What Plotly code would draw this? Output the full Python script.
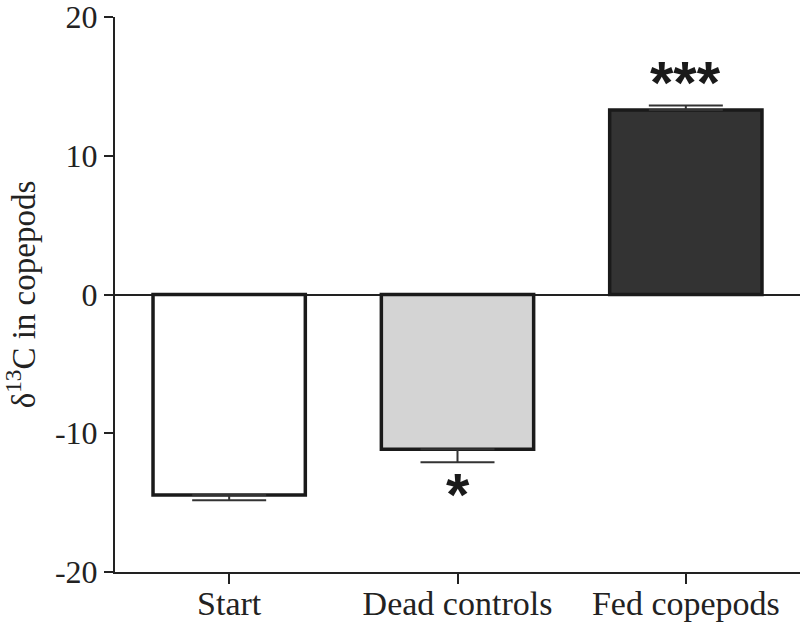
import plotly.graph_objects as go

# Data
groups = ["Start", "Dead controls", "Fed copepods"]
delta13c = [-14.45, -11.15, 13.3]
sem = [0.37, 0.94, 0.32]
significance = ["", "*", "***"]
bar_colors = ["#ffffff", "#d4d4d4", "#333333"]
y_ticks = [-20, -10, 0, 10, 20]
y_ticktext = ["-20", "-10", "0", "10", "20"]

# One-sided error bars pointing away from zero
err_up = [e if v > 0 else 0 for v, e in zip(delta13c, sem)]
err_down = [e if v < 0 else 0 for v, e in zip(delta13c, sem)]

fig = go.Figure()

fig.add_trace(go.Bar(
    x=groups,
    y=delta13c,
    width=0.667,
    marker=dict(color=bar_colors, line=dict(color="#1a1a1a", width=3.5)),
    error_y=dict(type="data", symmetric=False, array=err_up, arrayminus=err_down,
                 color="#333333", thickness=2, width=37),
    showlegend=False
))

# Significance stars
for g, v, e, s in zip(groups, delta13c, sem, significance):
    if not s:
        continue
    y = v + e + 1.65 if v > 0 else v - e - 2.3
    fig.add_annotation(x=g, y=y, text="<b>" + s + "</b>", showarrow=False,
                       font=dict(family="Liberation Sans", size=60, color="#1a1a1a"),
                       yanchor="middle")

fig.update_layout(
    width=800, height=623,
    margin=dict(l=115, r=0, t=17, b=51),
    plot_bgcolor="white",
    paper_bgcolor="white",
    font=dict(family="Liberation Serif", size=32, color="#222222"),
)

fig.update_xaxes(
    range=[-0.5, 2.5],
    automargin=False,
    showline=True, linecolor="#222222", linewidth=2,
    ticks="outside", ticklen=10, tickwidth=2, tickcolor="#222222",
    showgrid=False,
    tickfont=dict(family="Liberation Serif", size=34),
    ticklabelstandoff=-10,
    ticklabeloverflow="allow",
)

fig.update_yaxes(
    range=[-20, 20],
    automargin=False,
    tickvals=y_ticks, ticktext=y_ticktext,
    showline=True, linecolor="#222222", linewidth=2,
    ticks="outside", ticklen=9, tickwidth=2, tickcolor="#222222",
    showgrid=False,
    zeroline=True, zerolinecolor="#222222", zerolinewidth=2,
    tickfont=dict(family="Liberation Serif", size=32),
    ticklabeloverflow="allow",
    title=dict(text="δ<sup>13</sup>C in copepods",
               font=dict(family="Liberation Serif", size=33), standoff=25),
)

fig.write_html("out.html", config={"displayModeBar": False},
               post_script="document.body.style.margin='0';")
